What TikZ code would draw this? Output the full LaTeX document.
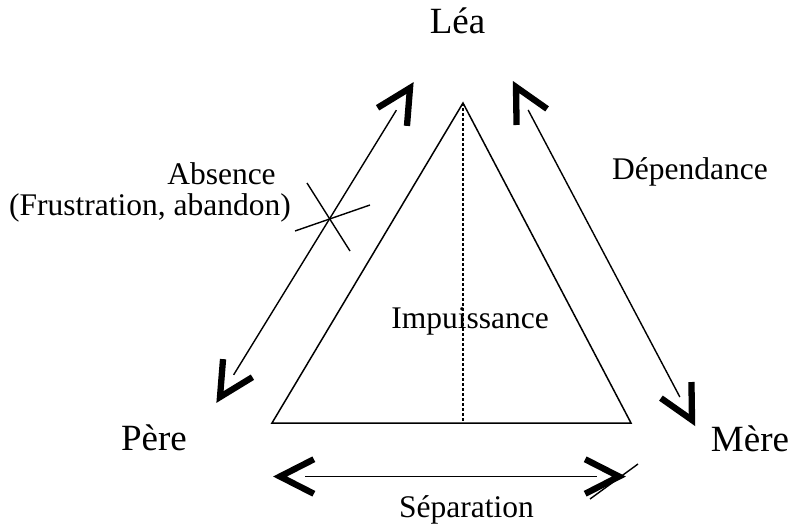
\documentclass[tikz,border=0pt]{standalone}
\usepackage{fontspec}
\setmainfont{Liberation Serif}
\usetikzlibrary{calc}

\tikzset{
  person/.style={inner sep=0pt, anchor=base, font=\fontsize{37}{40}\selectfont},
  label/.style={inner sep=0pt, anchor=base, font=\fontsize{31.5}{34}\selectfont},
  edge/.style={line width=1.4pt},
  tri/.style={line width=1.5pt, line join=miter},
  axis/.style={line width=1.2pt, dash pattern=on 3pt off 2pt},
  chev/.style={line width=6.3pt, line join=miter, line cap=butt},
  strike/.style={line width=1.4pt}
}

% open bold chevron with its point at #1, opening towards #2
\newcommand\chevronat[2]{%
  \draw[chev] ($(#1)!38pt!27:(#2)$) -- (#1) -- ($(#1)!38pt!-27:(#2)$);}

\begin{document}
\begin{tikzpicture}[x=1pt,y=-1pt]
  \useasboundingbox (0,0) rectangle (791,530);

  % people
  \node[person] (lea)  at (457.5,33) {Léa};
  \node[person] (pere) at (154,450)  {Père};
  \node[person] (mere) at (750,451)  {Mère};

  % relation labels
  \node[label] (absence)     at (221.5,184) {Absence};
  \node[label, anchor=base east] (frustration) at (291,215) {(Frustration, abandon)};
  \node[label] (dependance)  at (690,179)  {Dépendance};
  \node[label] (separation)  at (466.5,517) {Séparation};

  % central triangle
  \coordinate (apex) at (463,103);
  \coordinate (bl)   at (272,423);
  \coordinate (br)   at (631,423);
  \coordinate (foot) at (463,423);
  \draw[tri] (apex) -- (bl) -- (br) -- cycle;
  \draw[axis] (apex) -- (foot);
  \node[label] (impuissance) at (470,328) {Impuissance};

  % arrow ends
  \coordinate (pl) at (220,397);
  \coordinate (lp) at (410,88);
  \coordinate (lm) at (516,87);
  \coordinate (ml) at (692,420);
  \coordinate (ps) at (280,476.5);
  \coordinate (sp) at (619,476.5);

  % father -- Léa
  \draw[edge, shorten <=26pt, shorten >=26pt] (pl) -- (lp);
  \chevronat{pl}{lp}
  \chevronat{lp}{pl}

  % Léa -- mother
  \draw[edge, shorten <=26pt, shorten >=26pt] (lm) -- (ml);
  \chevronat{lm}{ml}
  \chevronat{ml}{lm}

  % father -- mother
  \draw[edge, shorten <=25pt, shorten >=22pt] (ps) -- (sp);
  \chevronat{ps}{sp}
  \chevronat{sp}{ps}

  % crossed-out marks
  \coordinate (xa1) at (295,231); \coordinate (xa2) at (370,205);
  \coordinate (xb1) at (307,183); \coordinate (xb2) at (350,251);
  \draw[strike] (xa1) -- (xa2);
  \draw[strike] (xb1) -- (xb2);
  \coordinate (xs1) at (590,499); \coordinate (xs2) at (638,464);
  \draw[strike] (xs1) -- (xs2);
\end{tikzpicture}
\end{document}
